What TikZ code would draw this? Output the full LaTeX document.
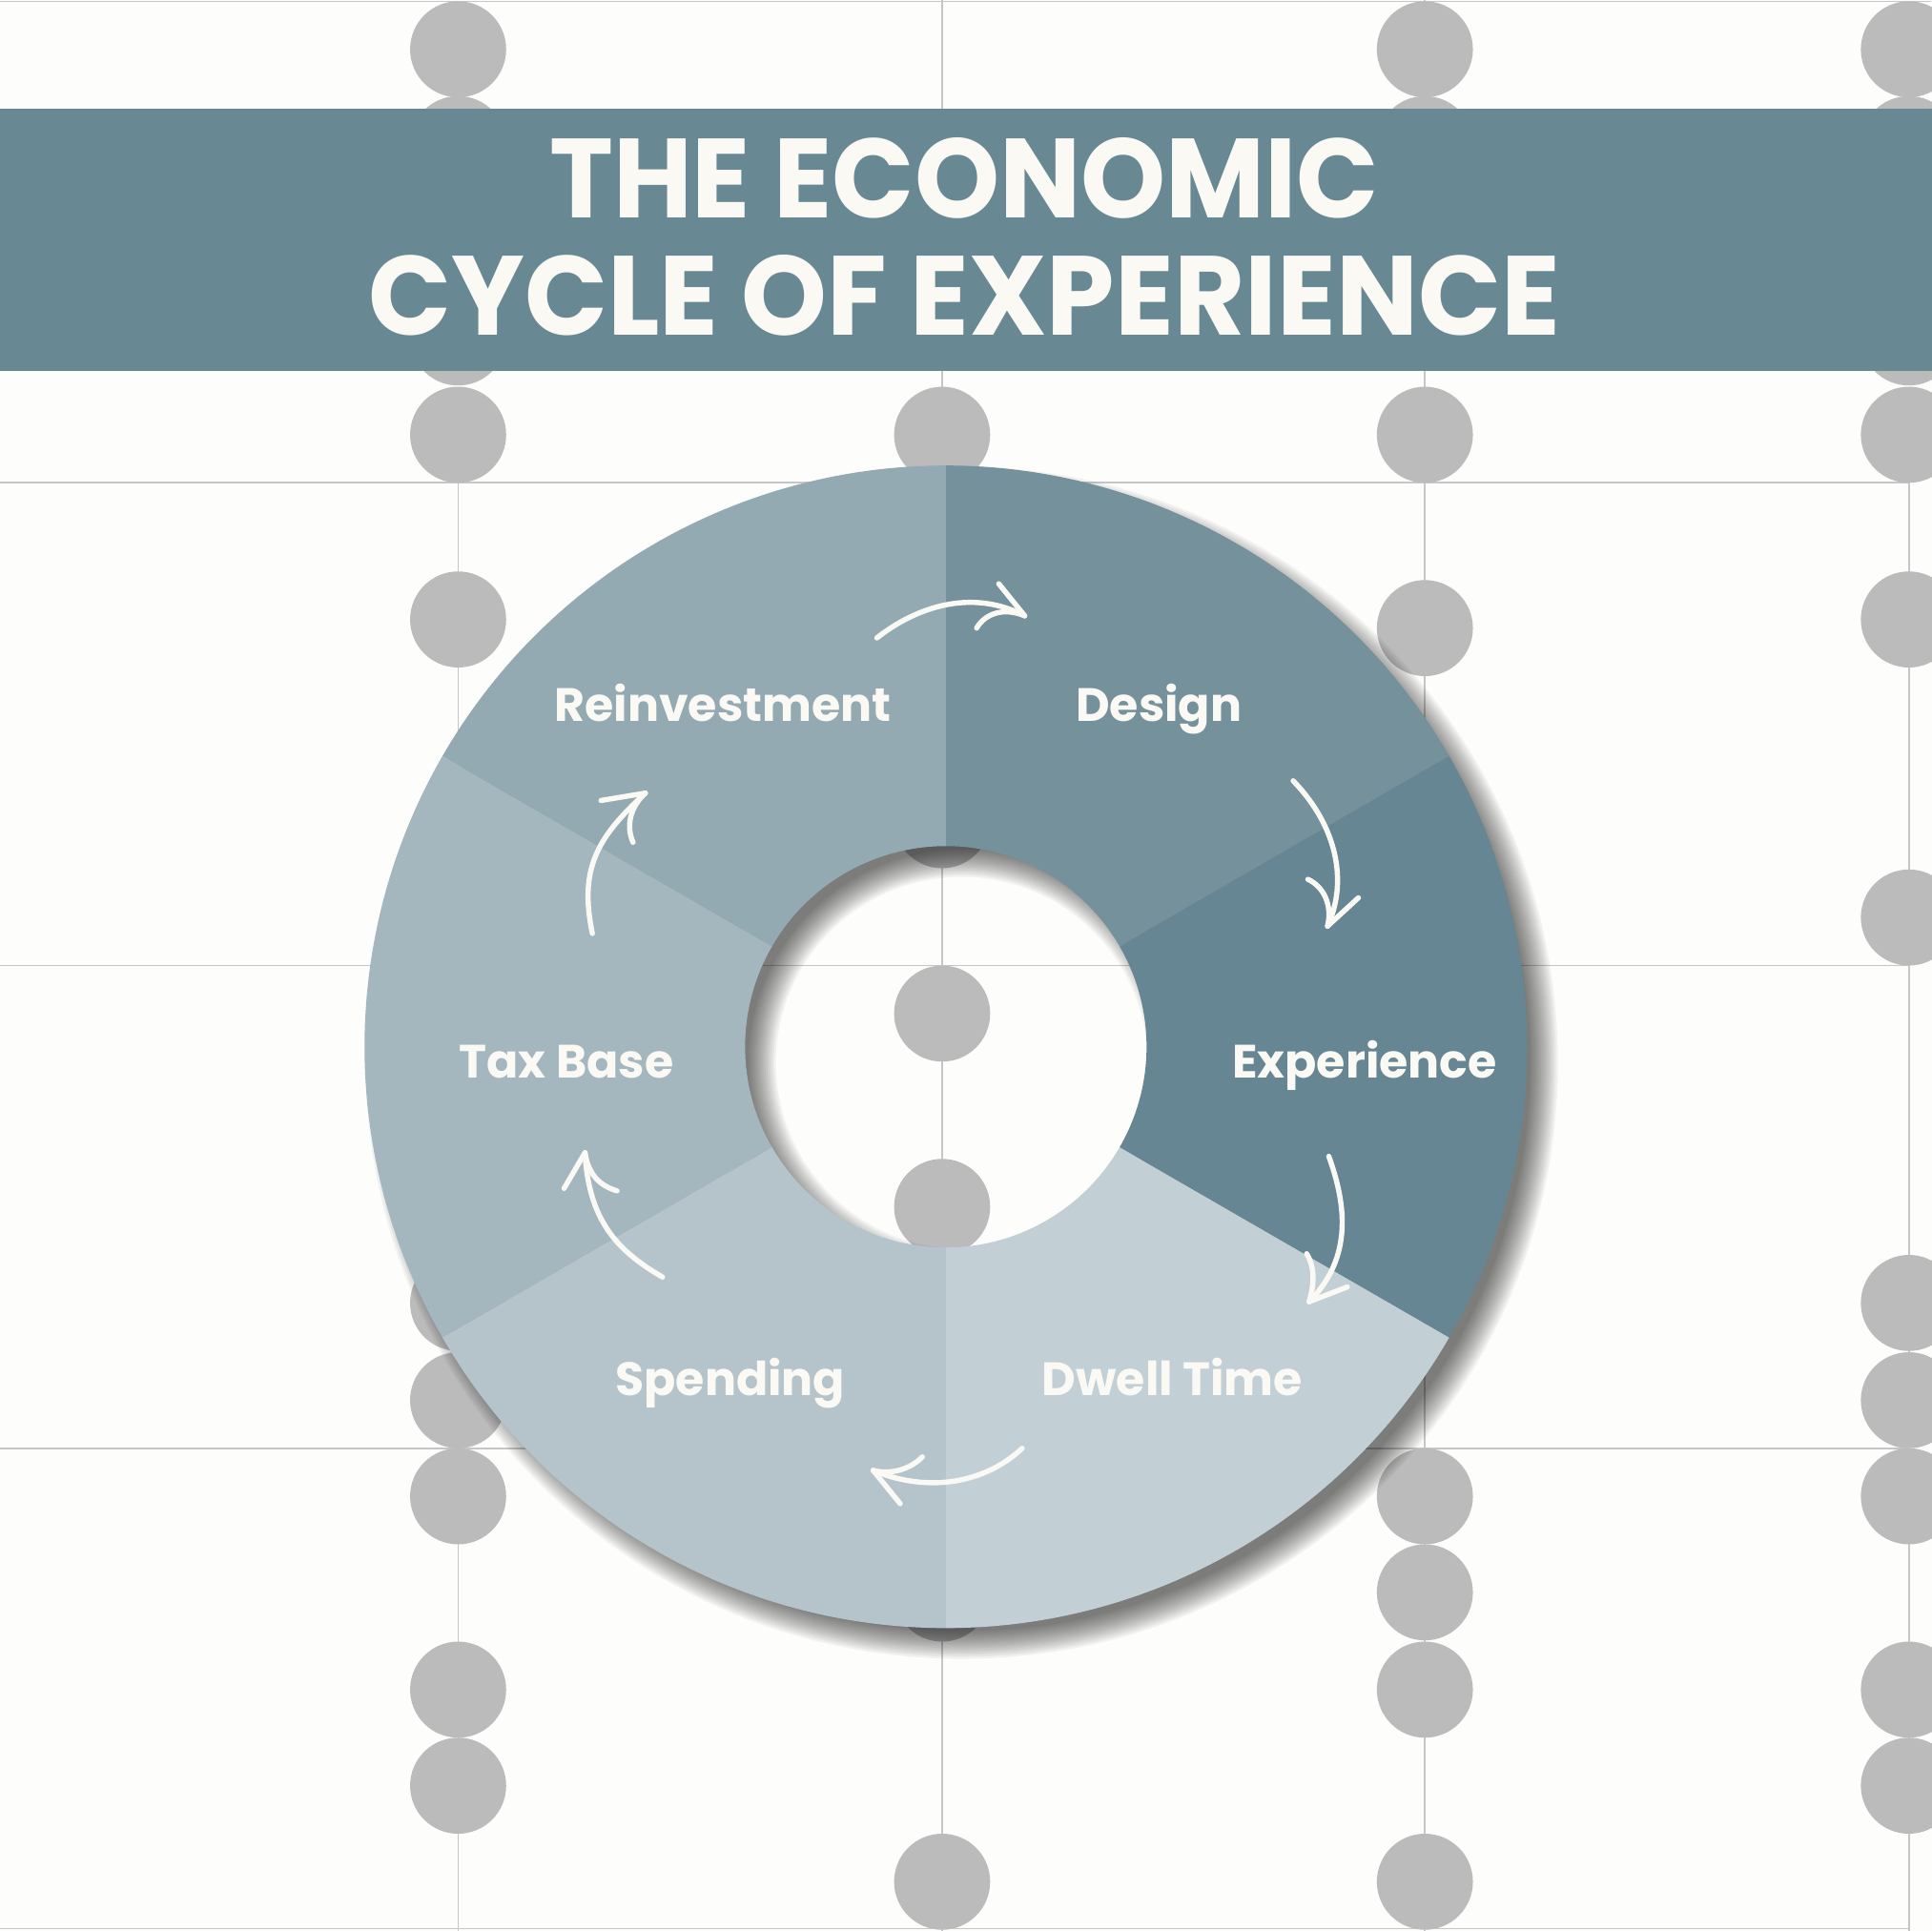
\documentclass[tikz,border=0pt]{standalone}
\usepackage{fontspec}
\setmainfont{Poppins}
\usetikzlibrary{calc}
\definecolor{bg}{HTML}{FDFDFB}
\definecolor{gridc}{HTML}{C6C6C6}
\definecolor{dotc}{HTML}{BBBBBB}
\definecolor{banner}{HTML}{688893}
\definecolor{txt}{HTML}{FAF9F4}
\definecolor{segA}{HTML}{94AAB2}
\definecolor{segB}{HTML}{75919C}
\definecolor{segC}{HTML}{678693}
\definecolor{segD}{HTML}{C2D0D6}
\definecolor{segE}{HTML}{B5C4CB}
\definecolor{segF}{HTML}{A4B6BE}
\begin{document}
\begin{tikzpicture}[x=0.01cm,y=-0.01cm,
  dot/.style={fill=dotc},
  gridline/.style={draw=gridc,line width=0.35pt},
  seglabel/.style={text=txt,font=\bfseries\fontsize{10.8}{13}\selectfont,anchor=base,inner sep=0pt},
  titletext/.style={text=txt,font=\bfseries\fontsize{26}{30}\selectfont,anchor=base,inner sep=0pt},
  hand/.style={draw=txt,line width=1.2pt,line cap=round,line join=round}]
\useasboundingbox (0,0) rectangle (1568,1568);
\fill[bg] (-10,-10) rectangle (1578,1578);
% grid
\draw[gridline] (0,1) -- (1568,1);
\foreach \yy in {392,784,1176,1566} \draw[gridline] (0,\yy) -- (1550,\yy);
\draw[gridline] (765,0) -- (765,1568);
\draw[gridline] (1157,0) -- (1157,1568);
\draw[gridline] (372,392) -- (372,1568);
\draw[gridline] (1550,392) -- (1550,1568);
% dots
\foreach \yy in {40,117,274,353,503,1058,1137,1215,1372,1450} \fill[dot] (372,\yy) circle[radius=39];
\foreach \yy in {353,666,823,980,1294,1528} \fill[dot] (765,\yy) circle[radius=39];
\foreach \yy in {40,117,353,510,1215,1293,1372,1528} \fill[dot] (1157,\yy) circle[radius=39];
\foreach \yy in {40,117,274,353,503,745,1058,1137,1215,1372,1450} \fill[dot] (1550,\yy) circle[radius=39];
% banner
\fill[banner] (-10,88) rectangle (1578,301);
\node[titletext] (t1) at (783,177) {\scalebox{0.96}[1]{THE ECONOMIC}};
\node[titletext] (t2) at (783,272) {\scalebox{0.968}[1]{CYCLE OF EXPERIENCE}};
% shadow
\foreach \k in {1,...,14}
  \fill[black,opacity=0.048,even odd rule] (781,863) circle[radius={460+24*\k/14}] (781,863) circle[radius={175-24*\k/14}];
% donut
\coordinate (C) at (768,850);
\foreach \a/\b/\c in {30/90/segB,90/150/segA,150/210/segF,210/270/segE,270/330/segD,-30/30/segC}
  \fill[\c] ($(C)+(-\a:472)$) arc[start angle=-\a,end angle=-\b,radius=472] -- ($(C)+(-\b:163)$) arc[start angle=-\b,end angle=-\a,radius=163] -- cycle;
% labels
\node[seglabel] (rein) at (587,586) {Reinvestment};
\node[seglabel] (design) at (941,586) {Design};
\node[seglabel] (exp) at (1108,875) {Experience};
\node[seglabel] (tax) at (460,875) {Tax Base};
\node[seglabel] (spend) at (593,1133) {Spending};
\node[seglabel] (dwell) at (952,1133) {Dwell Time};
% arrows
\coordinate (a1s) at (712,518); \coordinate (a1t) at (832,500);
\draw[hand] (a1s) .. controls (745,492) and (790,478) .. (a1t);
\draw[hand] (a1t) -- (811,474);
\draw[hand] (a1t) .. controls (815,493) and (800,498) .. (793,510);
\coordinate (a2s) at (1050,634); \coordinate (a2t) at (1078,752);
\draw[hand] (a2s) .. controls (1085,670) and (1095,715) .. (a2t);
\draw[hand] (a2t) -- (1103,729);
\draw[hand] (a2t) .. controls (1082,735) and (1075,720) .. (1062,714);
\coordinate (a3s) at (1079,939); \coordinate (a3t) at (1063,1057);
\draw[hand] (a3s) .. controls (1092,975) and (1100,1020) .. (a3t);
\draw[hand] (a3t) -- (1094,1045);
\draw[hand] (a3t) .. controls (1068,1040) and (1067,1028) .. (1061,1018);
\coordinate (a4s) at (830,1176); \coordinate (a4t) at (709,1194);
\draw[hand] (a4s) .. controls (805,1200) and (760,1215) .. (a4t);
\draw[hand] (a4t) -- (731,1221);
\draw[hand] (a4t) .. controls (725,1198) and (740,1192) .. (749,1183);
\coordinate (a5s) at (538,1037); \coordinate (a5t) at (475,936);
\draw[hand] (a5s) .. controls (500,1015) and (478,990) .. (a5t);
\draw[hand] (a5t) -- (458,965);
\draw[hand] (a5t) .. controls (478,955) and (488,963) .. (501,967);
\coordinate (a6s) at (481,758); \coordinate (a6t) at (524,644);
\draw[hand] (a6s) .. controls (470,705) and (485,680) .. (a6t);
\draw[hand] (a6t) -- (488,650);
\draw[hand] (a6t) .. controls (512,655) and (508,670) .. (514,684);
\end{tikzpicture}
\end{document}
